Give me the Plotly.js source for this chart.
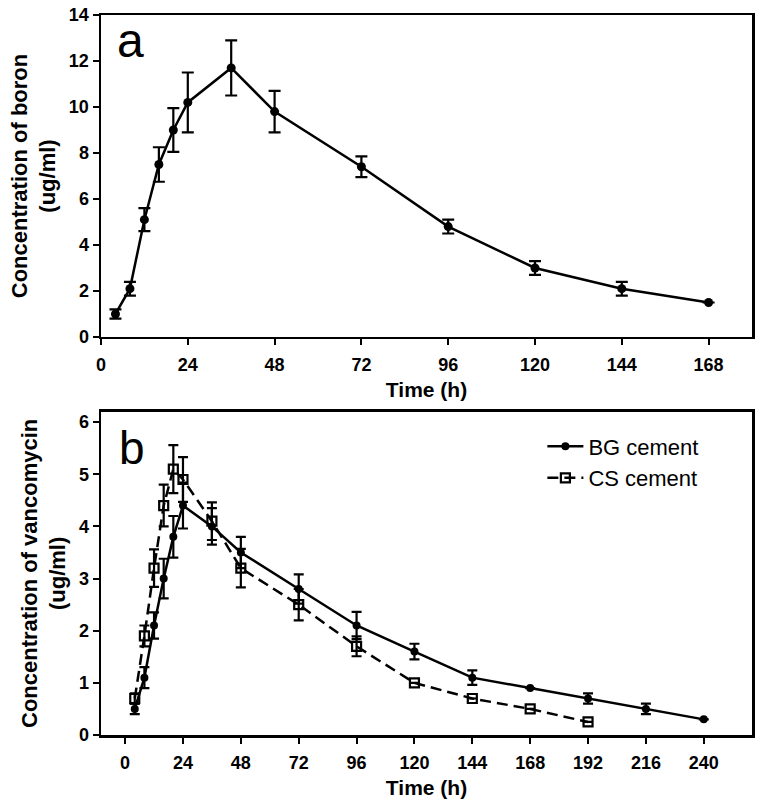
<!DOCTYPE html>
<html>
<head>
<meta charset="utf-8">
<script src="https://cdn.plot.ly/plotly-3.0.1.min.js"></script>
<style>html,body{margin:0;padding:0;background:#fff;}#chart{width:760px;height:806px;}</style>
</head>
<body>
<div id="chart"></div>
<script>
// Panel a: boron release
var boronTime = [4, 8, 12, 16, 20, 24, 36, 48, 72, 96, 120, 144, 168];
var boronConc = [1.0, 2.1, 5.1, 7.5, 9.0, 10.2, 11.7, 9.8, 7.4, 4.8, 3.0, 2.1, 1.5];
var boronErr  = [0.2, 0.3, 0.5, 0.75, 0.95, 1.3, 1.2, 0.9, 0.45, 0.3, 0.3, 0.3, 0];

// Panel b: vancomycin release
var bgTime = [4, 8, 12, 16, 20, 24, 36, 48, 72, 96, 120, 144, 168, 192, 216, 240];
var bgConc = [0.5, 1.1, 2.1, 3.0, 3.8, 4.4, 4.0, 3.5, 2.8, 2.1, 1.6, 1.1, 0.9, 0.7, 0.5, 0.3];
var bgErr  = [0.1, 0.2, 0.25, 0.38, 0.4, 0.44, 0.35, 0.3, 0.28, 0.26, 0.15, 0.14, 0, 0.1, 0.1, 0];

var csTime = [4, 8, 12, 16, 20, 24, 36, 48, 72, 96, 120, 144, 168, 192];
var csConc = [0.7, 1.9, 3.2, 4.4, 5.1, 4.9, 4.1, 3.2, 2.5, 1.7, 1.0, 0.7, 0.5, 0.25];
var csErr  = [0.1, 0.2, 0.36, 0.4, 0.46, 0.43, 0.36, 0.37, 0.3, 0.19, 0, 0, 0, 0];

var ticksA = [0, 24, 48, 72, 96, 120, 144, 168];
var ticksB = [0, 24, 48, 72, 96, 120, 144, 168, 192, 216, 240];
var yTicksA = [0, 2, 4, 6, 8, 10, 12, 14];
var yTicksB = [0, 1, 2, 3, 4, 5, 6];

var labelA = "a", labelB = "b";
var nameBG = "BG cement", nameCS = "CS cement";
var xTitle = "Time (h)";
var yTitleA = "Concentration of boron<br>(ug/ml)";
var yTitleB = "Concentration of vancomycin<br>(ug/ml)";

var tickFont = {family: "Liberation Sans, Arial, sans-serif", size: 18, color: "#000", weight: "bold"};
var titleFont = {family: "Liberation Sans, Arial, sans-serif", size: 21, color: "#000", weight: "bold"};
var yTitleFont = {family: "Liberation Sans, Arial, sans-serif", size: 22, color: "#000", weight: "bold"};

function errBar(arr, w) {
  return {type: "data", array: arr, visible: true, color: "#000", thickness: 2.2, width: w};
}

var traces = [
  {x: boronTime, y: boronConc, error_y: errBar(boronErr, 6), mode: "lines+markers",
   line: {color: "#000", width: 2.5}, marker: {symbol: "circle", size: 9, color: "#000"},
   xaxis: "x", yaxis: "y", showlegend: false},
  {x: bgTime, y: bgConc, error_y: errBar(bgErr, 5), mode: "lines+markers", name: nameBG,
   line: {color: "#000", width: 2.5}, marker: {symbol: "circle", size: 8, color: "#000"},
   xaxis: "x2", yaxis: "y2"},
  {x: csTime, y: csConc, error_y: errBar(csErr, 5), mode: "lines+markers", name: nameCS,
   line: {color: "#000", width: 2.5, dash: "11px,6px"},
   marker: {symbol: "square-open", size: 9, color: "#000", line: {color: "#000", width: 2.2}},
   xaxis: "x2", yaxis: "y2"}
];

function axisBase() {
  return {showline: true, mirror: true, linecolor: "#000", linewidth: 2.5,
          ticks: "outside", ticklen: 6, tickwidth: 2, tickcolor: "#000",
          showgrid: false, zeroline: false, tickfont: tickFont, fixedrange: true};
}

var xa = Object.assign(axisBase(), {domain: [0, 1], range: [0, 180], tickmode: "array", tickvals: ticksA,
  anchor: "y", ticklabelstandoff: 4, title: {text: xTitle, font: titleFont, standoff: 8}});
var ya = Object.assign(axisBase(), {domain: [0.5528, 1], range: [0, 14], tickmode: "array", tickvals: yTicksA,
  anchor: "x", title: {text: yTitleA, font: yTitleFont, standoff: 7}});
var xb = Object.assign(axisBase(), {domain: [0, 1], range: [-10, 260], tickmode: "array", tickvals: ticksB,
  anchor: "y2", ticklabelstandoff: 4, title: {text: xTitle, font: titleFont, standoff: 8}});
var yb = Object.assign(axisBase(), {domain: [0, 0.449], range: [0, 6.2], tickmode: "array", tickvals: yTicksB,
  anchor: "x2", title: {text: yTitleB, font: yTitleFont, standoff: 7}});

var layout = {
  width: 760, height: 806,
  margin: {l: 101, r: 8, t: 15, b: 71},
  paper_bgcolor: "#fff", plot_bgcolor: "#fff",
  font: {family: "Liberation Sans, Arial, sans-serif", color: "#000"},
  xaxis: xa, yaxis: ya, xaxis2: xb, yaxis2: yb,
  showlegend: true,
  legend: {x: 0.678, y: 0.43, xanchor: "left", yanchor: "top", bgcolor: "rgba(0,0,0,0)",
           font: {family: "Liberation Sans, Arial, sans-serif", size: 22, color: "#000"},
           itemwidth: 36},
  annotations: [
    {text: labelA, xref: "paper", yref: "paper", x: 0.021, y: 0.9647, xanchor: "left", yanchor: "middle",
     showarrow: false, font: {family: "Liberation Sans, Arial, sans-serif", size: 48, color: "#000"}},
    {text: labelB, xref: "paper", yref: "paper", x: 0.025, y: 0.398, xanchor: "left", yanchor: "middle",
     showarrow: false, font: {family: "Liberation Sans, Arial, sans-serif", size: 46, color: "#000"}}
  ]
};

Plotly.newPlot("chart", traces, layout, {displayModeBar: false, staticPlot: true});
</script>
</body>
</html>
